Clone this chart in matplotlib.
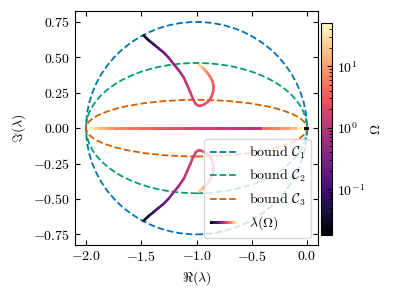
import numpy as np
import matplotlib
matplotlib.use("Agg")
import matplotlib.pyplot as plt
from matplotlib.collections import LineCollection
from matplotlib.colors import LogNorm, Normalize
from matplotlib.legend_handler import HandlerBase
from matplotlib.lines import Line2D
from matplotlib.patches import Ellipse

plt.rcParams.update({
    "font.family": "serif",
    "font.serif": ["cmr10"],
    "mathtext.fontset": "cm",
    "axes.formatter.use_mathtext": True,
    "font.size": 10,
})

# bounds: ellipses centred at -1, semi-axes (real, imag)
bound_labels = [r"bound $\mathcal{C}_1$", r"bound $\mathcal{C}_2$", r"bound $\mathcal{C}_3$"]
bound_colors = ["#0173b2", "#029e73", "#d55e00"]
bound_a = [1.0, 1.0, 1.0]
bound_b = [0.75, 0.46, 0.20]

# complex branch (upper half), the lower one is its conjugate
upper_re = [-1.480, -1.435, -1.388, -1.343, -1.297, -1.250, -1.206, -1.160, -1.115, -1.085,
            -1.055, -1.030, -1.009, -0.985, -0.964, -0.925, -0.888, -0.862, -0.848, -0.846,
            -0.857, -0.878, -0.903, -0.926, -0.948, -0.965, -0.979]
upper_im = [0.655, 0.622, 0.592, 0.563, 0.534, 0.496, 0.451, 0.408, 0.357, 0.305,
            0.251, 0.203, 0.173, 0.158, 0.157, 0.170, 0.192, 0.225, 0.263, 0.300,
            0.334, 0.365, 0.392, 0.412, 0.428, 0.439, 0.447]
upper_om = [0.02, 0.04, 0.07, 0.12, 0.2, 0.29, 0.4, 0.6, 0.9, 1.15,
            1.4, 1.65, 1.9, 2.1, 2.3, 2.5, 2.7, 2.85, 3.0, 3.3,
            3.6, 4.4, 5.5, 8.0, 12.0, 19.0, 30.0]

# real eigenvalues
real1_re = [-1.964, -1.918, -1.873, -1.80, -1.736, -1.618, -1.509, -1.373, -1.236, -1.10,
            -0.964, -0.827, -0.69, -0.555, -0.40]
real1_om = [50.0, 30.0, 18.0, 11.0, 8.0, 5.5, 4.5, 3.5, 2.8, 2.2,
            1.8, 1.4, 1.2, 1.05, 0.95]
real2_re = [-0.40, -0.327, -0.236, -0.145, -0.082, -0.036, -0.025]
real2_om = [4.0, 5.0, 7.0, 12.0, 25.0, 45.0, 50.0]
real3_re = [-0.022, -0.011, 0.0]
real3_om = [0.02, 0.02, 0.02]

norm = LogNorm(vmin=0.018, vmax=50)
cmap = plt.get_cmap("magma")


def colored_line(ax, xs, ys, vals, aa=True):
    pts = np.column_stack([xs, ys])
    segs = np.stack([pts[:-1], pts[1:]], axis=1)
    mids = np.sqrt(np.array(vals[:-1]) * np.array(vals[1:]))
    lc = LineCollection(segs, cmap=cmap, norm=norm, linewidth=1.9,
                        capstyle="round", joinstyle="round", zorder=3,
                        antialiased=aa)
    lc.set_array(mids)
    ax.add_collection(lc)
    return lc


class HandlerGradient(HandlerBase):
    def create_artists(self, legend, orig_handle, xdescent, ydescent,
                       width, height, fontsize, trans):
        xs = np.linspace(-xdescent, width - xdescent, 40)
        y = height / 2 - ydescent
        segs = [[(xs[i], y), (xs[i + 1], y)] for i in range(len(xs) - 1)]
        lc = LineCollection(segs, cmap=cmap, norm=Normalize(0, 1),
                            linewidth=1.9, transform=trans, antialiased=False)
        lc.set_array(np.linspace(0, 1, len(segs)))
        return [lc]


fig = plt.figure(figsize=(3.99, 2.98), dpi=100)
ax = fig.add_axes([0.188, 0.178, 0.609, 0.784])
cax = fig.add_axes([0.804, 0.211, 0.0276, 0.711])

handles = []
for a, b, c, lab in zip(bound_a, bound_b, bound_colors, bound_labels):
    ax.add_patch(Ellipse((-1.0, 0.0), 2 * a, 2 * b, fill=False, edgecolor=c,
                         linestyle="--", linewidth=1.3, zorder=2))
    handles.append(Line2D([], [], color=c, linestyle="--", linewidth=1.3, label=lab))

lc_up = colored_line(ax, upper_re, upper_im, upper_om)
colored_line(ax, upper_re, [-v for v in upper_im], upper_om)
colored_line(ax, real1_re, [0.0] * len(real1_re), real1_om, aa=False)
colored_line(ax, real2_re, [0.0] * len(real2_re), real2_om, aa=False)
colored_line(ax, real3_re, [0.0] * len(real3_re), real3_om, aa=False)

ax.set_xlim(-2.1, 0.1)
ax.set_ylim(-0.825, 0.825)
ax.set_xticks([-2.0, -1.5, -1.0, -0.5, 0.0])
ax.set_yticks([-0.75, -0.5, -0.25, 0.0, 0.25, 0.5, 0.75])
ax.tick_params(direction="in", top=True, right=True)
ax.set_xlabel(r"$\Re(\lambda)$")
ax.set_ylabel(r"$\Im(\lambda)$")

handles.append(lc_up)
labels = bound_labels + [r"$\lambda(\Omega)$"]
ax.legend(handles, labels, loc="lower right",
          handler_map={lc_up: HandlerGradient()})

sm = plt.cm.ScalarMappable(norm=norm, cmap=cmap)
cb = fig.colorbar(sm, cax=cax)
cb.set_label(r"$\Omega$")
cax.tick_params(direction="in", which="both")

fig.savefig("out.png", dpi=100)
